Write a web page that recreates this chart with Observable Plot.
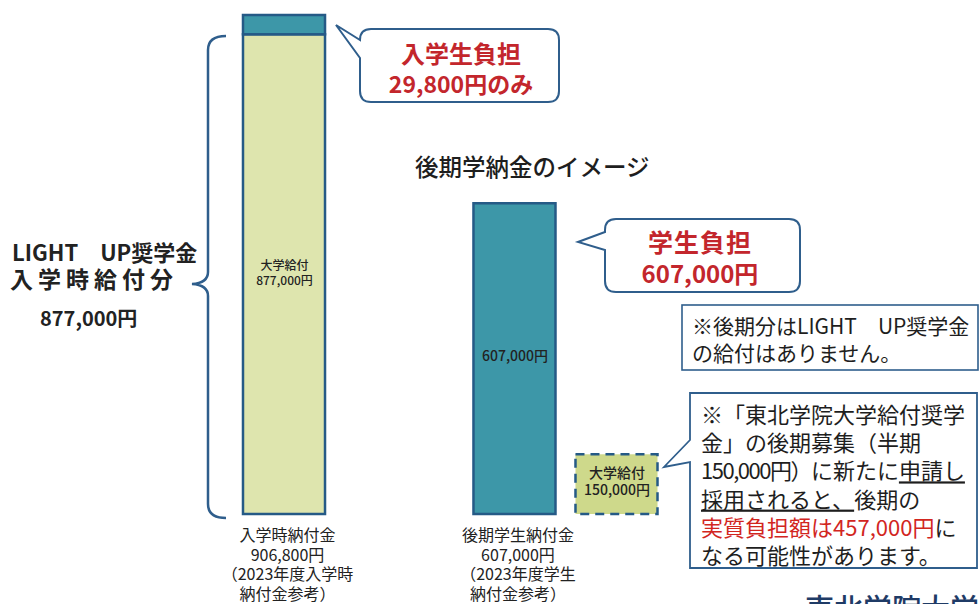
<!DOCTYPE html>
<html><head><meta charset="utf-8">
<script src="https://cdn.jsdelivr.net/npm/d3@7"></script>
<script src="https://cdn.jsdelivr.net/npm/@observablehq/plot@0.6"></script>
<style>
html,body{margin:0;padding:0;background:#fff;overflow:hidden;}
#chart{width:979px;height:604px;position:relative;}
</style></head><body><div id="chart"></div>
<script>
// ---- data ----
const groups = ["入学時", "後期"];
const slots = ["納付金", "追加給付"];
const barGroup = ["入学時", "入学時", "後期", "後期"];
const barSlot = ["納付金", "納付金", "納付金", "追加給付"];
const barPart = ["大学給付", "学生負担", "学生負担", "大学給付（後期募集）"];
const barValue = [877000, 29800, 607000, 150000];
const barText = ["大学給付\n877,000円", "", "607,000円", "大学給付\n150,000円"];
const groupLabel = [
  "入学時納付金\n906,800円\n（2023年度入学時\n納付金参考）",
  "後期学生納付金\n607,000円\n（2023年度学生\n納付金参考）"
];
const parts = ["大学給付", "学生負担", "大学給付（後期募集）"];
const partColors = ["#dee5ae", "#3d97a8", "#ced98b"];

// ---- build table ----
const K = 1.18;
const FONT = "'Noto Sans CJK JP', 'Noto Sans', sans-serif";
const base = {};
const bars = barValue.map((v, i) => {
  const key = barGroup[i] + "|" + barSlot[i];
  const y0 = base[key] || 0, y1 = y0 + v;
  base[key] = y1;
  const mid = Math.pow((Math.pow(y0, K) + Math.pow(y1, K)) / 2, 1 / K);
  return {group: barGroup[i], slot: barSlot[i], part: barPart[i], value: v, label: barText[i], mid};
});
const labels = groupLabel.map((t, i) => ({group: groups[i], slot: slots[0], text: t}));
const dashedPart = parts[2];

const svg = Plot.plot({
  width: 979, height: 604,
  marginTop: 15, marginBottom: 90, marginLeft: 223, marginRight: 301.5,
  fx: {domain: groups, axis: null, paddingInner: 0.028, paddingOuter: 0, round: false},
  x: {domain: slots, axis: null, padding: 0.196, round: false},
  y: {type: "pow", exponent: K, domain: [0, 906800], axis: null},
  color: {domain: parts, range: partColors},
  style: {fontFamily: FONT, background: "white", overflow: "hidden"},
  marks: [
    Plot.barY(bars.filter(d => d.part !== dashedPart), {
      fx: "group", x: "slot", y: "value", fill: "part",
      stroke: "#255a86", strokeWidth: 2.5
    }),
    Plot.barY(bars.filter(d => d.part === dashedPart), {
      fx: "group", x: "slot", y: "value", fill: "part",
      stroke: "#255a86", strokeWidth: 2.5, strokeDasharray: "9,6"
    }),
    Plot.text(bars.filter(d => d.label && d.group === groups[0]), {
      fx: "group", x: "slot", y: "mid", text: "label", dy: -2,
      fontSize: 12, lineHeight: 1.3, fill: "#222", fontWeight: 500
    }),
    Plot.text(bars.filter(d => d.label && d.group === groups[1]), {
      fx: "group", x: "slot", y: "mid", text: "label", dy: -4,
      fontSize: 14, lineHeight: 1.25, fill: "#222", fontWeight: 500
    }),
    Plot.text(labels, {
      fx: "group", x: "slot", text: "text", frameAnchor: "bottom",
      lineAnchor: "top", dy: 13, dx: 3, fontSize: 16, lineHeight: 1.22, fill: "#222"
    })
  ]
});
document.getElementById("chart").appendChild(svg);

// ---- annotations ----
const g = d3.select(svg).append("g").attr("font-family", FONT).attr("text-anchor", "start");
const STROKE = "#2f5e8c";
function text(x, y, s, o = {}) {
  return g.append("text").attr("x", x).attr("y", y)
    .attr("font-size", o.size || 16).attr("font-weight", o.weight || "normal")
    .attr("fill", o.fill || "#1e1e1e").attr("text-anchor", o.anchor || "start")
    .attr("letter-spacing", o.ls || 0).text(s);
}
function callout(L, T, R, B, r, ty1, ty2, tx, ty) {
  const p = `M${L + r},${T} H${R - r} Q${R},${T} ${R},${T + r} V${B - r} Q${R},${B} ${R - r},${B} H${L + r} Q${L},${B} ${L},${B - r} V${ty2} L${tx},${ty} L${L},${ty1} V${T + r} Q${L},${T} ${L + r},${T} Z`;
  g.append("path").attr("d", p).attr("fill", "white").attr("stroke", STROKE).attr("stroke-width", 2);
}

// brace
g.append("path")
  .attr("d", "M226,36 Q208,36 208,50 L208,272 Q208,283 192,284 Q208,285 208,296 L208,504 Q208,518 226,518")
  .attr("fill", "none").attr("stroke", STROKE).attr("stroke-width", 2.5);

// left labels
text(12, 261, "LIGHT\u3000UP奨学金", {size: 22, weight: "bold", fill: "#222"});
text(10, 288, "入学時給付分", {size: 23, weight: "bold", fill: "#222", ls: 5});
text(40, 326, "877,000円", {size: 20, weight: "bold", fill: "#222"});

// callout 1
callout(360, 29, 559, 102, 11, 40, 58, 336, 25);
text(461, 63, "入学生負担", {size: 24, weight: "bold", fill: "#c3262c", anchor: "middle"});
text(461, 93, "29,800円のみ", {size: 23, weight: "bold", fill: "#c3262c", anchor: "middle"});

// title
text(415, 176, "後期学納金のイメージ", {size: 23.5, fill: "#1e1e1e", weight: 500});

// callout 2
callout(605, 219, 800, 292, 11, 232, 250, 578, 242);
text(700, 252, "学生負担", {size: 25, weight: "bold", fill: "#c3262c", anchor: "middle", ls: 1});
text(700, 283, "607,000円", {size: 24, weight: "bold", fill: "#c3262c", anchor: "middle"});

// info box
g.append("rect").attr("x", 682).attr("y", 305).attr("width", 296).attr("height", 65)
  .attr("fill", "white").attr("stroke", STROKE).attr("stroke-width", 1.6);
text(692, 334, "※後期分はLIGHT\u3000UP奨学金", {size: 21});
text(692, 361, "の給付はありません。", {size: 21});

// callout 3 (square box with tail)
g.append("path")
  .attr("d", "M690,393 H977 V568 H690 V462 L664,467 L690,440 Z")
  .attr("fill", "white").attr("stroke", STROKE).attr("stroke-width", 1.8);
const lines3 = [
  [["※「東北学院大学給付奨学"]],
  [["金」の後期募集（半期"]],
  [["150,000円）", "t"], ["に新たに"], ["申請し", "u"]],
  [["採用されると、", "u"], ["後期の"]],
  [["実質負担額は457,000円", "r"], ["に"]],
  [["なる可能性があります。"]]
];
lines3.forEach((ln, i) => {
  const t = g.append("text").attr("x", 701).attr("y", 423 + i * 28.2)
    .attr("font-size", 22).attr("fill", "#1e1e1e").attr("text-anchor", "start");
  ln.forEach(([s, f]) => {
    const sp = t.append("tspan").text(s);
    if (f === "u") sp.attr("text-decoration", "underline");
    if (f === "r") sp.attr("fill", "#d2261f");
    if (f === "t") sp.attr("letter-spacing", -1.5);
  });
});

// bottom-right logo text (cut off by the frame)
text(805, 620, "東北学院大学", {size: 29, fill: "#1f3b66", weight: 500});
</script>
</body></html>
